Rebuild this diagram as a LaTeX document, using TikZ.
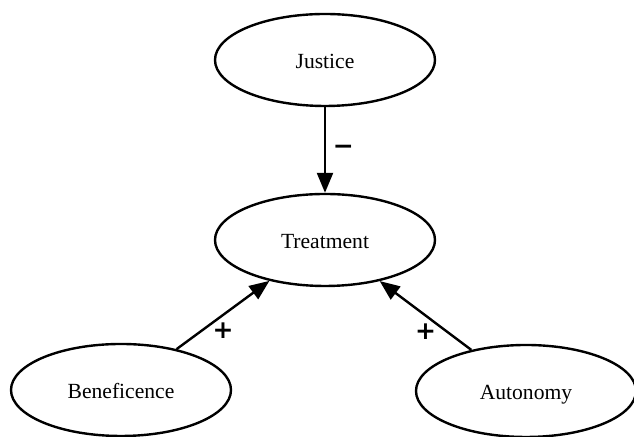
\documentclass[tikz,border=0pt]{standalone}
\usepackage{fontspec}
\setmainfont{Liberation Serif}
\newfontfamily\signfont{DejaVu Sans}
\usepackage{tikz}
\usetikzlibrary{shapes.geometric,arrows.meta,positioning}

\begin{document}
\begin{tikzpicture}[>={Triangle[length=10pt,width=8pt]},line width=1.2pt,node distance=1cm,on grid,auto,
  factor/.style={ellipse,draw,minimum width=110pt,minimum height=46pt,text height=10pt,text depth=1pt,font=\fontsize{10.8}{13}\selectfont},
  sign/.style={font=\signfont\bfseries\fontsize{12.5}{14}\selectfont}]
\useasboundingbox (0,0) rectangle (317pt,-218.5pt);
\node[factor](q_j) at (162.5pt,-30pt) {Justice};
\node[factor](q_t)[below=90pt of q_j]{Treatment};
\node[factor](q_b)[below left=75pt and 102pt of q_t]{Beneficence};
\node[factor](q_a)[below right=75.5pt and 100.5pt of q_t]{Autonomy};
\draw[->] (q_j) -- (q_t) node[midway,sign] {−};
\draw[->] (q_b) -- (q_t) node[midway,below,sign] {+};
\draw[->] (q_a) -- (q_t) node[midway,below,sign] {+};
\end{tikzpicture}
\end{document}
